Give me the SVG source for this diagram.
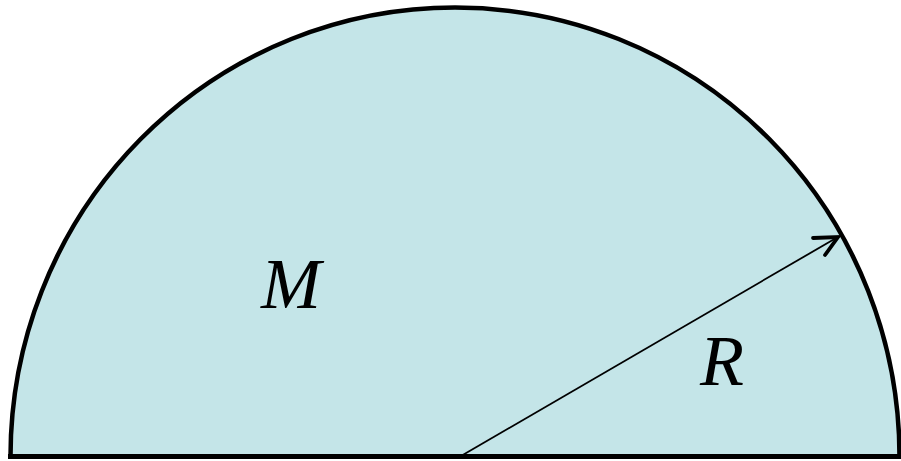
<svg xmlns="http://www.w3.org/2000/svg" width="901" height="461" viewBox="0 0 901 461">
<style>
.lbl{font-family:"Liberation Serif","Times New Roman",serif;font-style:italic;font-size:72px;fill:#000}
</style>
<rect width="901" height="461" fill="#ffffff"/>
<g id="semicircle">
<path d="M 10.5 456.5 A 444.5 449 0 0 1 899.5 456.5 Z" fill="#c4e5e8" stroke="#000" stroke-width="4.5"/>
<line x1="8" y1="456.5" x2="901" y2="456.5" stroke="#000" stroke-width="5"/>
</g>
<g id="connectors">
<line x1="461" y1="456" x2="837" y2="237.5" stroke="#000" stroke-width="1.8"/>
<polyline points="813,238 838,237 825,255" fill="none" stroke="#000" stroke-width="3.8" stroke-linecap="round" stroke-linejoin="miter"/>
</g>
<g id="label-M"><text class="lbl" x="261" y="308">M</text></g>
<g id="label-R"><text class="lbl" x="700" y="385">R</text></g>
</svg>
